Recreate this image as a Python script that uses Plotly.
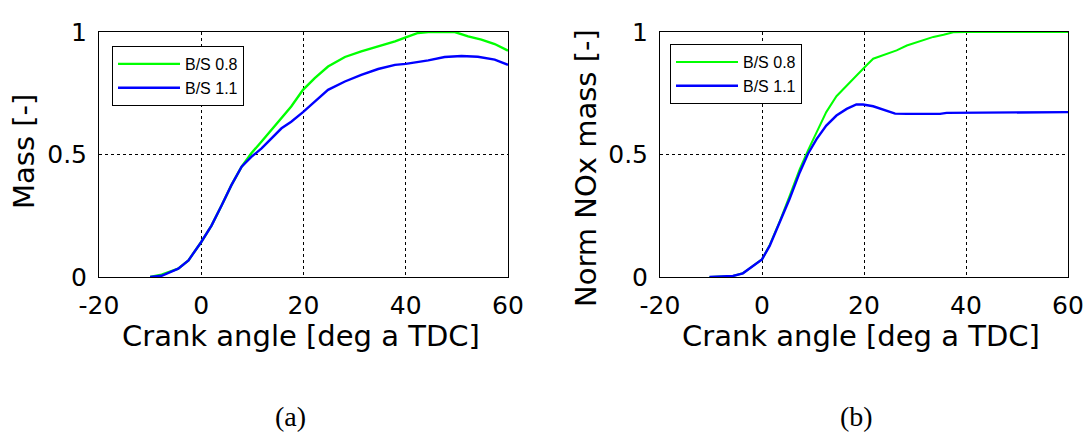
import plotly.graph_objects as go

# ---------------- data ----------------
# (a) Mass [-]
mass_x_bs08 = [-10, -7.75, -4.5, -2.5, 0, 2, 4, 5.9, 7.9, 9.8, 11.8, 13.7, 15.7, 17.6, 19.9,
               22.2, 24.8, 28.1, 31.3, 34.6, 37.9, 40, 42.4, 44.4, 47, 49.6, 52.2, 54.8, 57.4, 60]
mass_y_bs08 = [0, 0.01, 0.034, 0.068, 0.143, 0.21, 0.293, 0.375, 0.45, 0.505, 0.553, 0.6, 0.648,
               0.696, 0.764, 0.812, 0.859, 0.898, 0.921, 0.941, 0.962, 0.978, 0.996, 1.0, 1.0,
               1.0, 0.982, 0.969, 0.951, 0.924]
mass_x_bs11 = [-10, -7.75, -4.5, -2.5, 0, 2, 4, 5.9, 7.9, 9.8, 11.8, 13.7, 15.7, 17.6, 19.9,
               22.2, 24.8, 28.1, 31.3, 34.6, 37.9, 40, 44.4, 47.6, 50.9, 54.1, 57.4, 60]
mass_y_bs11 = [0, 0.005, 0.034, 0.068, 0.143, 0.21, 0.293, 0.375, 0.45, 0.49, 0.525, 0.566,
               0.607, 0.634, 0.673, 0.716, 0.764, 0.798, 0.825, 0.849, 0.866, 0.870, 0.884,
               0.898, 0.902, 0.899, 0.887, 0.866]

# (b) Norm NOx mass [-]
nox_x_bs08 = [-10.3, -5.7, -3.75, -1.8, 0, 1.5, 3.5, 5.4, 7.4, 9.0, 10.7, 12.6, 14.6, 16.6, 18.5,
              20.5, 21.8, 24.4, 26.4, 28.4, 31, 33.6, 35.6, 37.5, 40, 60]
nox_y_bs08 = [0, 0.004, 0.015, 0.045, 0.072, 0.13, 0.228, 0.33, 0.44, 0.516, 0.593, 0.673, 0.738,
              0.782, 0.823, 0.864, 0.891, 0.911, 0.925, 0.945, 0.962, 0.98, 0.989, 0.999, 1.0, 1.0]
nox_x_bs11 = [-10.3, -5.7, -3.75, -1.8, 0, 1.5, 3.5, 5.4, 7.4, 9.0, 10.7, 12.6, 14.6, 16.6, 18.5,
              19.8, 21.8, 23.8, 26.1, 28.4, 34.9, 36.2, 41.5, 60]
nox_y_bs11 = [0, 0.004, 0.015, 0.045, 0.072, 0.127, 0.222, 0.318, 0.427, 0.502, 0.563, 0.618,
              0.659, 0.686, 0.704, 0.704, 0.697, 0.683, 0.667, 0.666, 0.666, 0.670, 0.671, 0.673]

series_names = ["B/S 0.8", "B/S 1.1"]
series_colors = ["#00ff00", "#0000ff"]

x_ticks = [-20, 0, 20, 40, 60]
x_ticktext = ["-20", "0", "20", "40", "60"]
y_ticks = [0, 0.5, 1]
y_ticktext = ["0", "0.5", "1"]

x_title = "Crank angle [deg a TDC]"
y_title_a = "Mass [-]"
y_title_b = "Norm NOx mass [-]"
panel_labels = ["(a)", "(b)"]

# ---------------- figure ----------------
W, H = 1090, 436
fig = go.Figure()

fig.add_trace(go.Scatter(x=mass_x_bs08, y=mass_y_bs08, mode="lines", name=series_names[0],
                         line=dict(color=series_colors[0], width=2.4), xaxis="x", yaxis="y",
                         legend="legend"))
fig.add_trace(go.Scatter(x=mass_x_bs11, y=mass_y_bs11, mode="lines", name=series_names[1],
                         line=dict(color=series_colors[1], width=2.4), xaxis="x", yaxis="y",
                         legend="legend"))
fig.add_trace(go.Scatter(x=nox_x_bs08, y=nox_y_bs08, mode="lines", name=series_names[0],
                         line=dict(color=series_colors[0], width=2.0), xaxis="x2", yaxis="y2",
                         legend="legend2"))
fig.add_trace(go.Scatter(x=nox_x_bs11, y=nox_y_bs11, mode="lines", name=series_names[1],
                         line=dict(color=series_colors[1], width=2.4), xaxis="x2", yaxis="y2",
                         legend="legend2"))

tick_font = dict(family="DejaVu Sans", size=25, color="black")
ydom = [(H - 277) / H, (H - 32) / H]

common_x = dict(range=[-20, 60], tickvals=x_ticks, ticktext=x_ticktext, tickfont=tick_font,
                showgrid=True, gridcolor="black", gridwidth=1, griddash="3px,3px",
                showline=True, linecolor="black", linewidth=1, mirror=True, ticks="",
                zeroline=False, automargin=False, ticklabelstandoff=6)
common_y = dict(range=[0, 1], tickvals=y_ticks, ticktext=y_ticktext, tickfont=tick_font,
                showgrid=True, gridcolor="black", gridwidth=1, griddash="3px,3px",
                showline=True, linecolor="black", linewidth=1, mirror=True, ticks="",
                zeroline=False, automargin=False, domain=ydom, ticklabelstandoff=6)

legend_common = dict(bgcolor="white", bordercolor="black", borderwidth=1,
                     font=dict(family="Liberation Sans", size=16, color="black"),
                     xanchor="left", yanchor="top", itemwidth=62, tracegroupgap=0)

fig.update_layout(
    width=W, height=H,
    margin=dict(l=0, r=0, t=0, b=0),
    paper_bgcolor="white", plot_bgcolor="white",
    xaxis=dict(domain=[99 / W, 508 / W], anchor="y", **common_x),
    yaxis=dict(anchor="x", **common_y),
    xaxis2=dict(domain=[660 / W, 1068 / W], anchor="y2", **common_x),
    yaxis2=dict(anchor="x2", **common_y),
    legend=dict(x=112 / W, y=(H - 46) / H, **legend_common),
    legend2=dict(x=670 / W, y=(H - 44) / H, **legend_common),
    showlegend=True,
)

title_font = dict(family="DejaVu Sans", size=29, color="black")
anns = [
    dict(text=x_title, x=301 / W, y=(H - 336) / H, xref="paper", yref="paper",
         showarrow=False, font=title_font, xanchor="center", yanchor="middle"),
    dict(text=x_title, x=861 / W, y=(H - 336) / H, xref="paper", yref="paper",
         showarrow=False, font=title_font, xanchor="center", yanchor="middle"),
    dict(text=y_title_a, x=24 / W, y=(H - 152) / H, xref="paper", yref="paper",
         showarrow=False, font=title_font, textangle=-90, xanchor="center", yanchor="middle"),
    dict(text=y_title_b, x=586 / W, y=(H - 168) / H, xref="paper", yref="paper",
         showarrow=False, font=title_font, textangle=-90, xanchor="center", yanchor="middle"),
    dict(text=panel_labels[0], x=290 / W, y=(H - 416) / H, xref="paper", yref="paper",
         showarrow=False, font=dict(family="Liberation Serif", size=28, color="black"),
         xanchor="center", yanchor="middle"),
    dict(text=panel_labels[1], x=856 / W, y=(H - 416) / H, xref="paper", yref="paper",
         showarrow=False, font=dict(family="Liberation Serif", size=28, color="black"),
         xanchor="center", yanchor="middle"),
]
fig.update_layout(annotations=anns)

fig.write_html("out.html")
